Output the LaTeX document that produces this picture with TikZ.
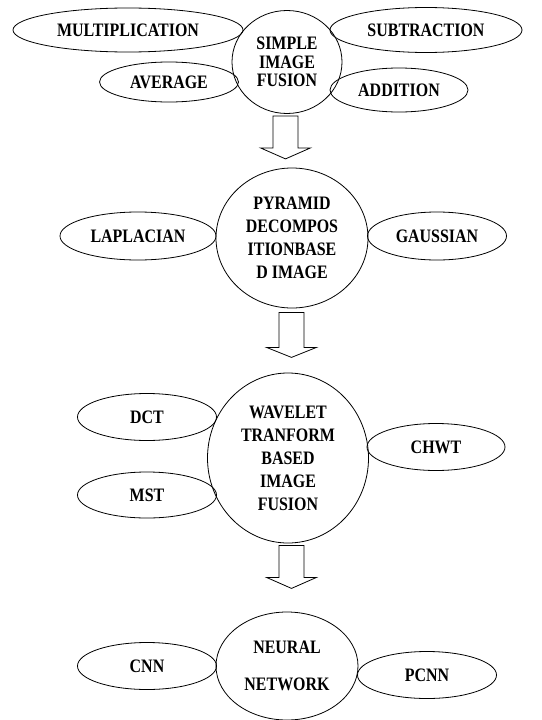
\documentclass[tikz,border=0pt]{standalone}
\usepackage{fontspec}
\setmainfont{Liberation Serif}[FakeStretch=0.84]
\usepackage{tikz}
\usetikzlibrary{shapes.geometric}
\usetikzlibrary{positioning}

\begin{document}
\begin{tikzpicture}[x=1pt, y=-1pt,
        oval/.style={ellipse, draw=black, line width=0.8pt, inner sep=0pt, font=\bfseries\fontsize{19}{23}\selectfont},
        hub/.style={ellipse, draw=black, line width=0.8pt, inner sep=0pt, align=center, font=\bfseries\fontsize{19}{23}\selectfont},
        block/.style={draw=black, line width=0.8pt, fill=white}
      ]
        \useasboundingbox (0,0) rectangle (541,720);

        \node[hub, minimum width=110pt, minimum height=103pt, font=\bfseries\fontsize{19}{18.5}\selectfont]  (simple)  at (287,62)  {SIMPLE\\IMAGE\\FUSION};
        \node[oval, minimum width=230pt, minimum height=44pt]  (mult)  at (128,30)  {MULTIPLICATION};
        \node[oval, minimum width=192pt, minimum height=45pt]  (sub)   at (426,30)  {SUBTRACTION};
        \node[oval, minimum width=139pt, minimum height=40pt]  (avg)   at (169,82)  {AVERAGE};
        \node[oval, minimum width=138pt, minimum height=44pt]  (add)   at (399,90)  {ADDITION};

        \node[hub, minimum width=152pt, minimum height=140pt]  (pyramid)  at (292,238)  {PYRAMID\\DECOMPOS\\ITIONBASE\\D IMAGE};
        \node[oval, minimum width=156pt, minimum height=48pt]  (lap)    at (138,236)  {LAPLACIAN};
        \node[oval, minimum width=139pt, minimum height=48pt]  (gauss)  at (437,236)  {GAUSSIAN};

        \node[hub, minimum width=161pt, minimum height=170pt]  (wavelet)  at (288,458)  {WAVELET\\TRANFORM\\BASED\\IMAGE\\FUSION};
        \node[oval, minimum width=139pt, minimum height=47pt]  (dct)   at (147,417)  {DCT};
        \node[oval, minimum width=139pt, minimum height=46pt]  (mst)   at (147,495)  {MST};
        \node[oval, minimum width=138pt, minimum height=47pt]  (chwt)  at (436,447)  {CHWT};

        \node[hub, minimum width=142pt, minimum height=108pt, font=\bfseries\fontsize{19}{37}\selectfont]  (neural)  at (287,666)  {NEURAL\\NETWORK};
        \node[oval, minimum width=139pt, minimum height=47pt]  (cnn)   at (147,666)  {CNN};
        \node[oval, minimum width=139pt, minimum height=47pt]  (pcnn)  at (427,675)  {PCNN};

        \draw[block] ([xshift=-14pt, yshift=-2pt]simple.south) -- ++(0,32) -- ++(-12.5,0) -- ++(25,11) -- ++(25,-11) -- ++(-12.5,0) -- ++(0,-32) -- cycle;
        \draw[block] ([xshift=-13pt, yshift=-4pt]pyramid.south) -- ++(0,35) -- ++(-12.5,0) -- ++(25,10) -- ++(25,-10) -- ++(-12.5,0) -- ++(0,-35) -- cycle;
        \draw[block] ([xshift=-9pt, yshift=-2pt]wavelet.south) -- ++(0,32) -- ++(-12.5,0) -- ++(25,11) -- ++(25,-11) -- ++(-12.5,0) -- ++(0,-32) -- cycle;
      \end{tikzpicture}
\end{document}
